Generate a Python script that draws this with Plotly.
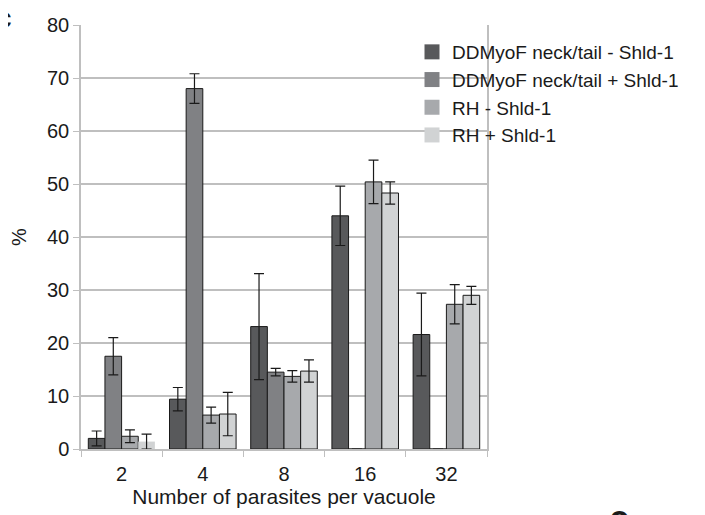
import plotly.graph_objects as go

categories = ["2", "4", "8", "16", "32"]
series_names = ["DDMyoF neck/tail - Shld-1", "DDMyoF neck/tail + Shld-1", "RH - Shld-1", "RH + Shld-1"]
ddmyof_minus = [2.0, 9.4, 23.1, 44.0, 21.6]
ddmyof_minus_err = [1.4, 2.2, 10.0, 5.6, 7.8]
ddmyof_plus = [17.5, 68.0, 14.5, 0.0, 0.0]
ddmyof_plus_err = [3.5, 2.8, 0.7, 0.0, 0.0]
rh_minus = [2.4, 6.4, 13.7, 50.4, 27.3]
rh_minus_err = [1.2, 1.5, 1.1, 4.1, 3.7]
rh_plus = [1.4, 6.6, 14.7, 48.3, 29.0]
rh_plus_err = [1.4, 4.1, 2.1, 2.1, 1.7]
y_ticks = [0, 10, 20, 30, 40, 50, 60, 70, 80]

values = [ddmyof_minus, ddmyof_plus, rh_minus, rh_plus]
errors = [ddmyof_minus_err, ddmyof_plus_err, rh_minus_err, rh_plus_err]
colors = ["#58595b", "#808184", "#a7a9ac", "#d1d3d4"]
edge = "#1a1a1a"
edge_colors = [
    [edge] * 5,
    [edge] * 5,
    [edge] * 5,
    ["rgba(0,0,0,0)", edge, edge, edge, edge],
]

FONT = "Liberation Sans, Arial, sans-serif"
fig = go.Figure()
for name, v, e, c, ec in zip(series_names, values, errors, colors, edge_colors):
    fig.add_trace(go.Bar(
        x=categories, y=v, name=name, showlegend=False,
        marker=dict(color=c, line=dict(color=ec, width=1)),
        error_y=dict(type="data", array=e, visible=True, color=edge, thickness=1.2, width=5),
    ))
# legend swatches (plain squares, no outline, as in the original)
for name, c in zip(series_names, colors):
    fig.add_trace(go.Scatter(
        x=[None], y=[None], name=name, showlegend=True, mode="markers",
        marker=dict(color=c, symbol="square", size=15, line=dict(width=0)),
    ))

# page body adds an 8px offset; plot area should appear at x 81..487, y 25..449
OFF = 8
W_PLOT = 406
H_PLOT = 424
L = 81 - OFF
T = 25 - OFF
R = 705 - L - W_PLOT
B = 515 - T - H_PLOT

def px(x):
    return (x - 81) / W_PLOT

def py(y):
    return (449 - y) / H_PLOT

fig.update_layout(
    width=705, height=515,
    margin=dict(l=L, r=R, t=T, b=B, autoexpand=False),
    barmode="group", bargap=0.18, bargroupgap=0,
    plot_bgcolor="white", paper_bgcolor="white",
    font=dict(family=FONT, size=20, color="#1a1a1a"),
    showlegend=True,
    legend=dict(x=px(412), y=py(33), xanchor="left", yanchor="top",
                bgcolor="rgba(0,0,0,0)", font=dict(size=19, color="#1a1a1a"),
                tracegroupgap=0, itemwidth=30),
    xaxis=dict(
        type="category", tickson="boundaries", ticks="outside", ticklen=6,
        tickcolor="#bfbfbf", showline=True, linecolor="#bfbfbf", linewidth=1.5,
        showgrid=False, automargin=False, ticklabelstandoff=6,
        title=dict(text="Number of parasites per vacuole", standoff=4, font=dict(size=21)),
        tickfont=dict(size=20),
    ),
    yaxis=dict(
        range=[0, 80], tickvals=y_ticks, ticks="outside", ticklen=6,
        tickcolor="#bfbfbf", showline=True, linecolor="#bfbfbf", linewidth=1.5,
        mirror=True, showgrid=True, gridcolor="#bfbfbf", gridwidth=1.5,
        zeroline=False, automargin=False,
        title=dict(text="%", standoff=17, font=dict(size=20)),
        tickfont=dict(size=20),
    ),
    annotations=[
        dict(text="<b>c</b>", xref="paper", yref="paper", x=px(14), y=py(18),
             xanchor="right", yanchor="middle", showarrow=False,
             font=dict(size=30, color="#1a1a1a")),
        dict(text="<b>c</b>", xref="paper", yref="paper", x=px(619), y=py(496),
             xanchor="center", yanchor="top", showarrow=False,
             font=dict(size=36, color="#1a1a1a")),
    ],
)

fig.write_html("out.html")
